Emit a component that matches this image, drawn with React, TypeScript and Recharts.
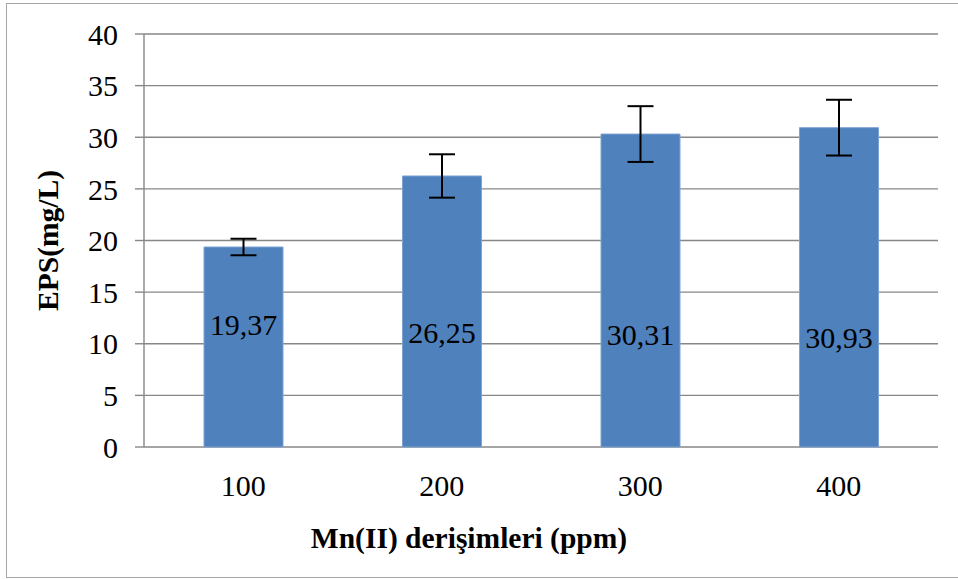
import React from "react";
import {
  BarChart,
  Bar,
  XAxis,
  YAxis,
  CartesianGrid,
  ErrorBar,
  LabelList,
} from "recharts";

// --- Data ---
const concentrations = ["100", "200", "300", "400"];
const epsValues = [19.37, 26.25, 30.31, 30.93];
const epsErrors = [0.8, 2.1, 2.7, 2.7];
// where the value labels sit inside each bar (in mg/L units)
const labelLevels = [11.85, 11.05, 10.85, 10.6];
const yTicks = [0, 5, 10, 15, 20, 25, 30, 35, 40];
const boundaryTicks = [0, 1, 2, 3, 4];

const chartData = concentrations.map((c, i) => ({
  name: c,
  eps: epsValues[i],
  err: epsErrors[i],
  labelLevel: labelLevels[i],
  label: epsValues[i].toFixed(2).replace(".", ","),
}));

const FONT = "Liberation Serif";
const GRID = "#878787";
const textStyle = { fontFamily: FONT };

const renderValueLabel = (props: any) => {
  const { x, y, width, height, index } = props;
  const d = chartData[index];
  const bottom = y + height;
  const cy = bottom - (d.labelLevel * height) / d.eps;
  return (
    <text
      x={x + width / 2}
      y={cy}
      textAnchor="middle"
      dominantBaseline="central"
      style={textStyle}
      fontSize={30}
      fill="#000"
    >
      {d.label}
    </text>
  );
};

export default function App() {
  return (
    <div
      style={{
        position: "absolute",
        left: 0,
        top: 0,
        width: 958,
        height: 579,
        overflow: "hidden",
        background: "#fff",
        fontFamily: FONT,
      }}
    >
      <div
        style={{
          position: "absolute",
          left: 6,
          top: 3,
          width: 980,
          height: 573,
          border: "1.5px solid #a6a6a6",
        }}
      />
      <div style={{ position: "absolute", left: 0, top: 0 }}>
        <BarChart
          width={958}
          height={579}
          data={chartData}
          margin={{ top: 34, right: 20, left: 20, bottom: 72 }}
          barCategoryGap={0}
          style={textStyle}
        >
          <CartesianGrid
            vertical={false}
            stroke={GRID}
            strokeWidth={1.4}
          />
          <XAxis
            xAxisId="bounds"
            type="number"
            domain={[0, 4]}
            ticks={boundaryTicks}
            tick={false}
            height={0}
            tickSize={9}
            axisLine={{ stroke: GRID, strokeWidth: 1.4 }}
            tickLine={{ stroke: GRID, strokeWidth: 1.4 }}
          />
          <XAxis
            dataKey="name"
            height={60}
            axisLine={false}
            tickLine={false}
            tickSize={0}
            tickMargin={28}
            tick={{ fill: "#000", fontSize: 30, style: textStyle }}
            label={{
              content: (p: any) => {
                const vb = p.viewBox;
                return (
                  <text
                    x={vb.x + vb.width / 2 - 72}
                    y={548}
                    textAnchor="middle"
                    style={textStyle}
                    fontWeight="bold"
                    fontSize={29.5}
                    fill="#000"
                  >
                    Mn(II) derişimleri (ppm)
                  </text>
                );
              },
            }}
          />
          <YAxis
            width={124}
            domain={[0, 40]}
            ticks={yTicks}
            interval={0}
            tickSize={9}
            tickMargin={17}
            axisLine={{ stroke: GRID, strokeWidth: 1.4 }}
            tickLine={{ stroke: GRID, strokeWidth: 1.4 }}
            tick={{ fill: "#000", fontSize: 30, style: textStyle }}
            label={{
              content: (p: any) => {
                const vb = p.viewBox;
                const cx = vb.x + 28;
                const cy = vb.y + vb.height / 2;
                return (
                  <text
                    x={cx}
                    y={cy}
                    transform={`rotate(-90 ${cx} ${cy})`}
                    textAnchor="middle"
                    dominantBaseline="central"
                    style={textStyle}
                    fontWeight="bold"
                    fontSize={29.5}
                    fill="#000"
                  >
                    EPS(mg/L)
                  </text>
                );
              },
            }}
          />
          <Bar
            dataKey="eps"
            fill="#4F81BD"
            stroke="#7EA3D3"
            strokeWidth={1}
            barSize={79}
            isAnimationActive={false}
          >
            <LabelList dataKey="label" content={renderValueLabel} />
            <ErrorBar
              dataKey="err"
              width={13}
              stroke="#000"
              strokeWidth={2}
              direction="y"
            />
          </Bar>
        </BarChart>
      </div>
    </div>
  );
}
